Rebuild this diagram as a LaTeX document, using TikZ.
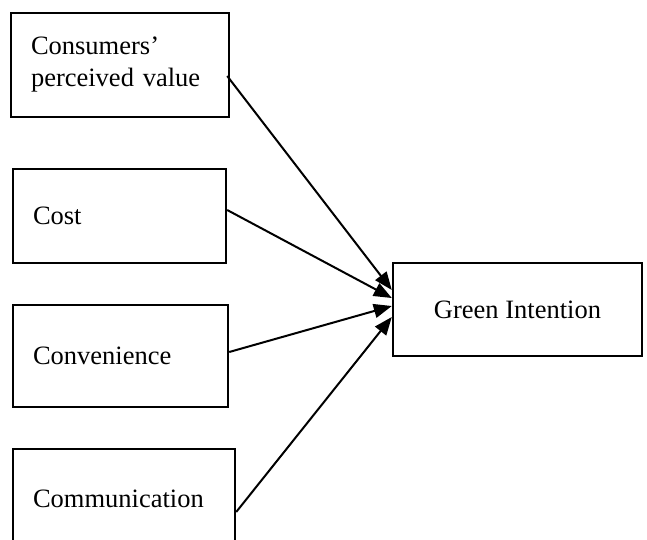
\documentclass[tikz,border=0pt]{standalone}
\usepackage{fontspec}
\setmainfont{Liberation Serif}
\usetikzlibrary{arrows.meta,calc}
\tikzset{
  leftbox/.style={draw, line width=2.4pt, rectangle, inner xsep=20pt, inner ysep=0pt, align=left,
    font=\fontsize{26.5}{32}\selectfont},
  goalbox/.style={draw, line width=2.4pt, rectangle, inner sep=0pt, align=center,
    minimum width=249pt, minimum height=93pt, font=\fontsize{26.5}{32}\selectfont},
  link/.style={line width=2pt, -{Triangle[length=18pt,width=14pt]}}
}
\begin{document}
\begin{tikzpicture}[x=1pt,y=-1pt]
\clip (0,0) rectangle (647,539);
\fill[white] (0,0) rectangle (647,539);
\node[leftbox, text width=178pt, minimum height=104pt] (b1) at (120,65) {\raisebox{-3pt}{Consumers’}\\\raisebox{-3pt}{perceived value}};
\node[leftbox, text width=173pt, minimum height=94pt] (b2) at (119.5,216) {Cost};
\node[leftbox, text width=175pt, minimum height=102pt] (b3) at (120.5,356) {Convenience};
\node[leftbox, text width=182pt, minimum height=100pt] (b4) at (124,499) {Communication};
\node[goalbox] (g) at (517.5,309.5) {Green Intention};
\draw[link] ($(b1.east)+(-3,11)$) -- ($(g.west)+(0,-19.5)$);
\draw[link] ($(b2.east)+(0,-6)$) -- ($(g.west)+(0,-11.5)$);
\draw[link] ($(b3.east)+(0,-4)$) -- ($(g.west)+(0,-3.5)$);
\draw[link] ($(b4.east)+(0,13)$) -- ($(g.west)+(0,7.5)$);
\end{tikzpicture}
\end{document}
